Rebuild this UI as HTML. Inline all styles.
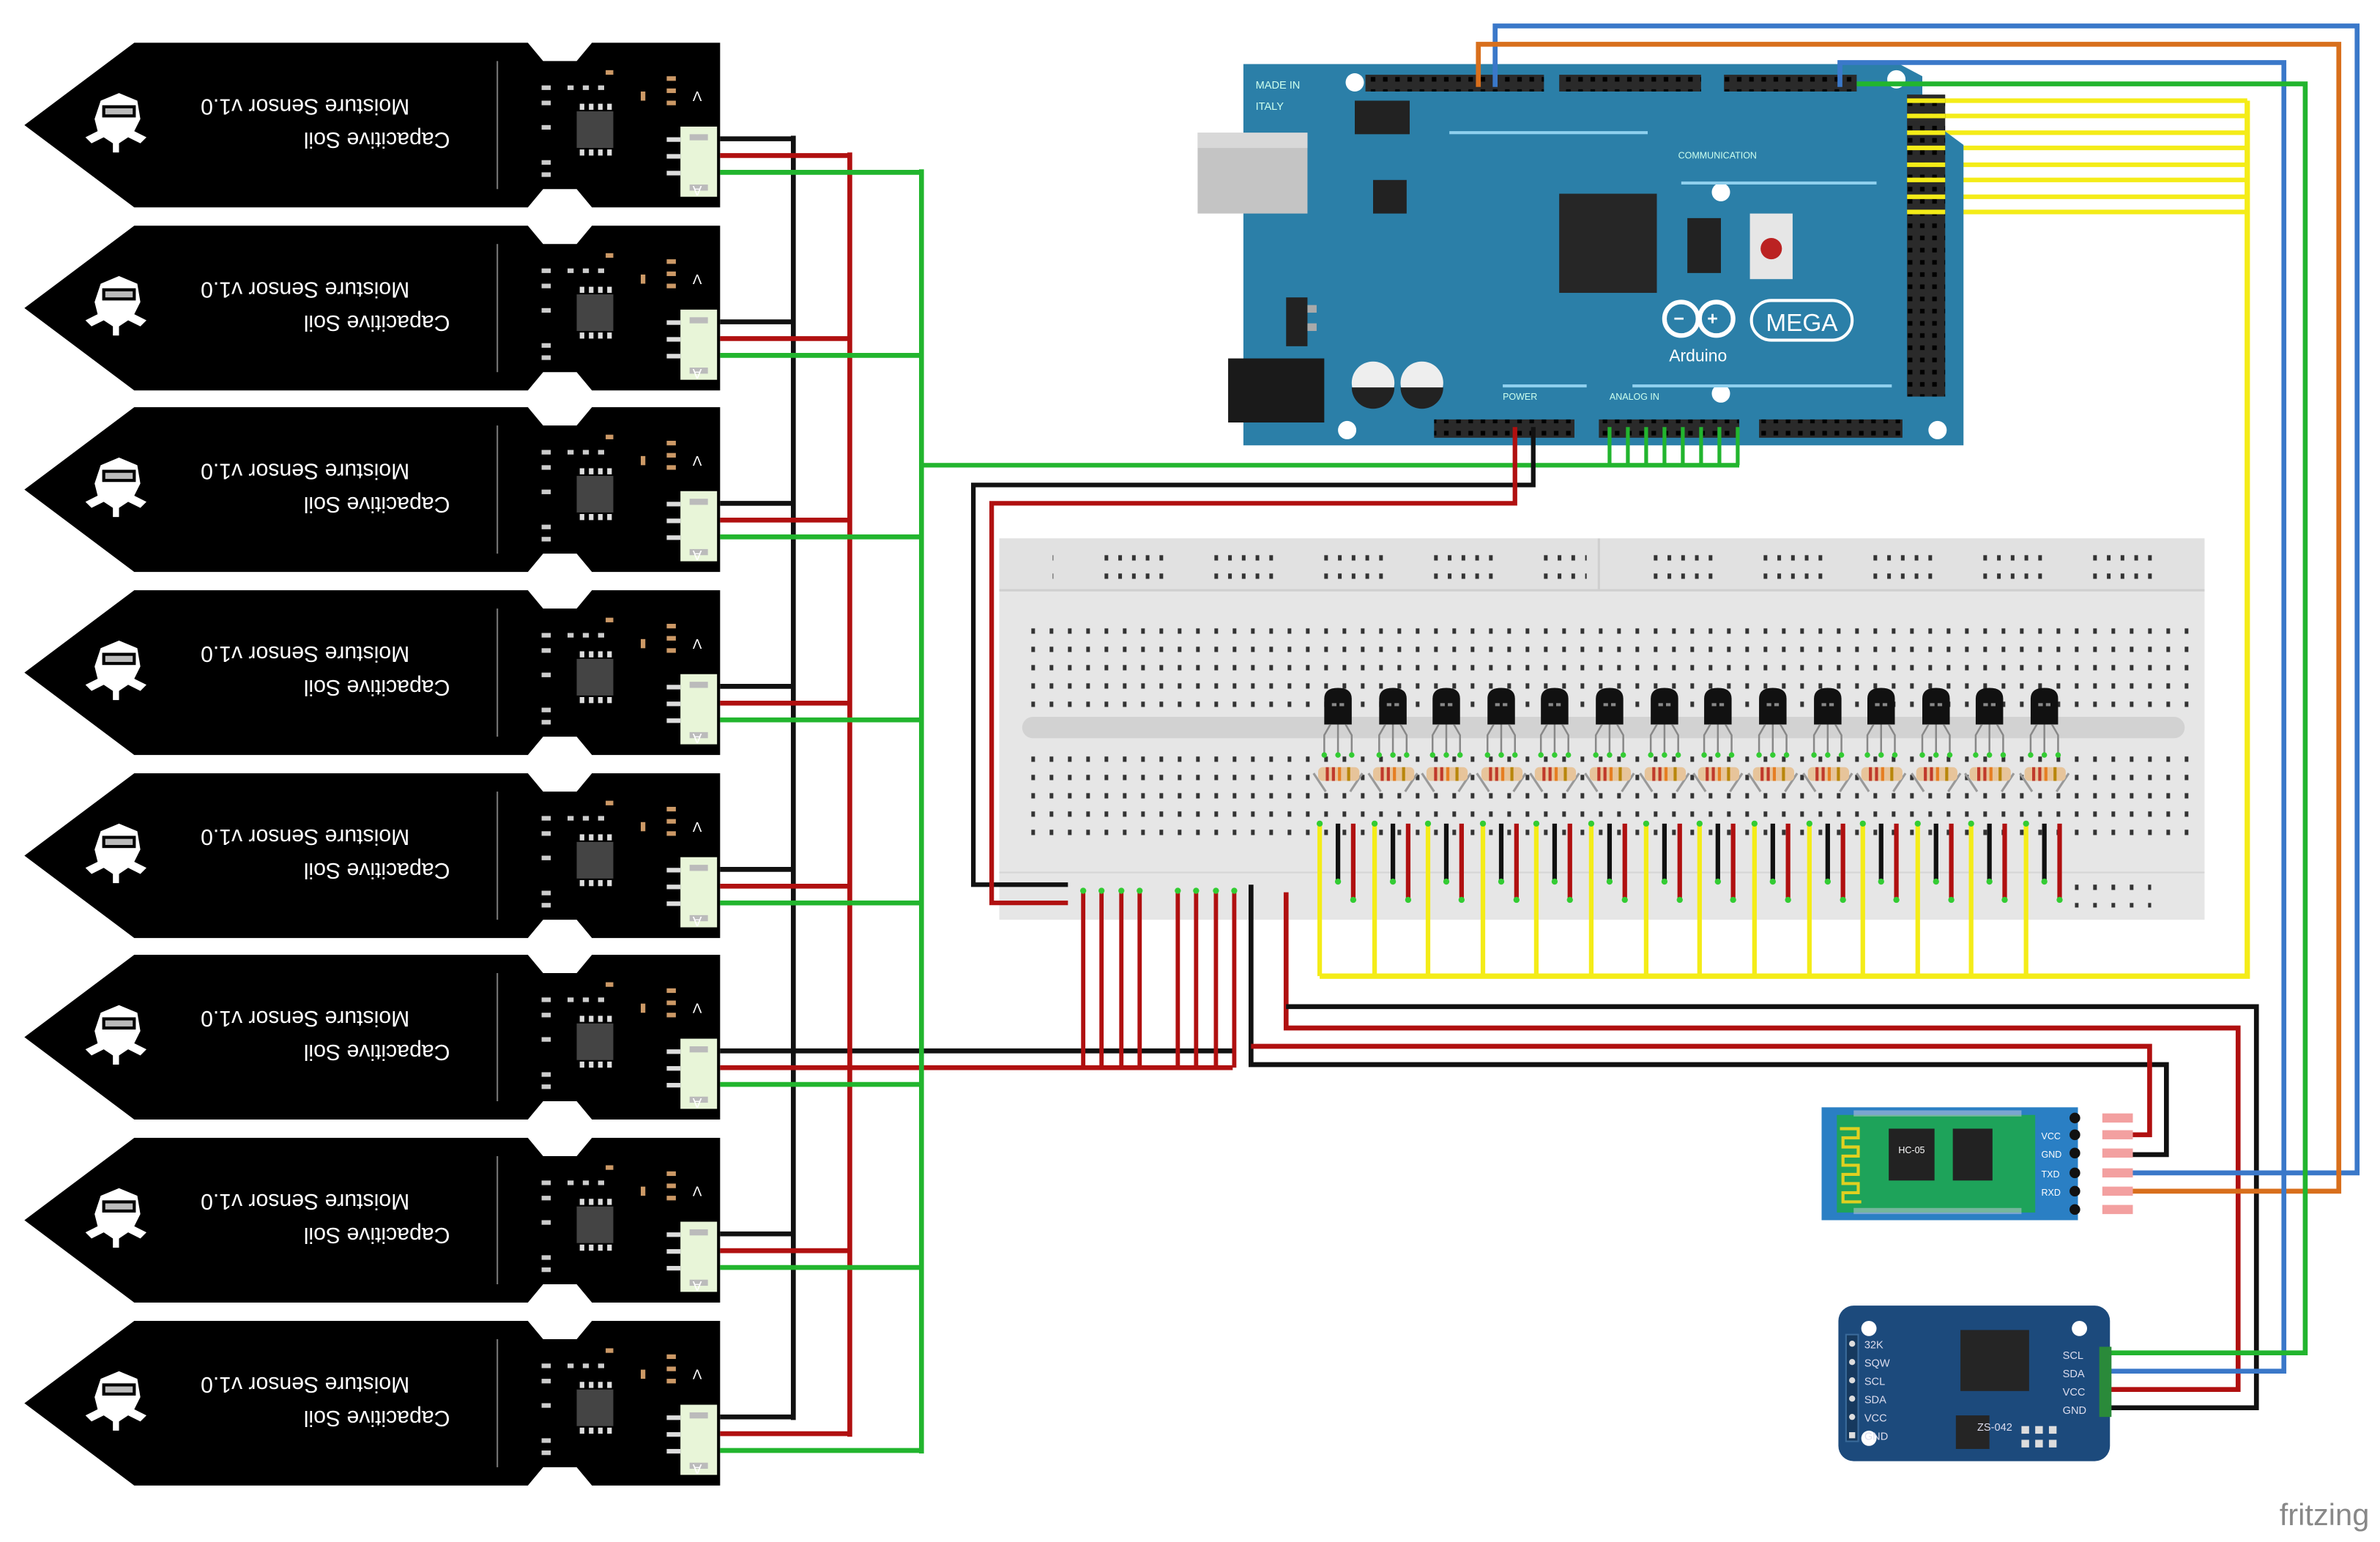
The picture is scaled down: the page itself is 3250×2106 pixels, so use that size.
<!DOCTYPE html>
<html><head><meta charset="utf-8"><style>
html,body{margin:0;padding:0;background:#fff;}
svg{display:block;}
text{font-family:"Liberation Sans","DejaVu Sans",sans-serif;}
</style></head><body>
<svg xmlns="http://www.w3.org/2000/svg" width="3250" height="2106" viewBox="0 0 1560 1011" preserveAspectRatio="none">
<defs>
<pattern id="bbdot" x="0" y="0" width="12" height="12" patternUnits="userSpaceOnUse"><rect x="4" y="4" width="2.4" height="3.5" fill="#333"/></pattern>
<pattern id="raildot" x="0" y="0" width="72" height="12" patternUnits="userSpaceOnUse">
<rect x="4" y="4" width="2.4" height="3.5" fill="#333"/><rect x="13" y="4" width="2.4" height="3.5" fill="#333"/><rect x="22" y="4" width="2.4" height="3.5" fill="#333"/><rect x="31" y="4" width="2.4" height="3.5" fill="#333"/><rect x="40" y="4" width="2.4" height="3.5" fill="#333"/></pattern>
<pattern id="hdr" x="0" y="0" width="8" height="8" patternUnits="userSpaceOnUse"><rect width="8" height="8" fill="#2a2a2a"/><rect x="2.5" y="2.5" width="3" height="3" fill="#000"/></pattern>
<g id="sensor">
<path d="M16,54 L88,0 L346,0 L356,12 L378,12 L388,0 L472,0 L472,108 L388,108 L378,96 L356,96 L346,108 L88,108 Z" fill="#000"/>
<line x1="326" y1="12" x2="326" y2="96" stroke="#777" stroke-width="1"/>
<path d="M66,38 L78,33 L90,38 L92,50 L88,58 L96,62 L92,66 L84,62 L78,66 L78,72 L74,72 L74,66 L68,62 L60,66 L56,62 L64,58 L62,50 Z" fill="#fff"/>
<rect x="67" y="41" width="22" height="8" fill="#000"/><rect x="69" y="43" width="18" height="4" fill="#bbb"/>
<rect x="378" y="45" width="24" height="24" fill="#444"/>
<rect x="380" y="40" width="3" height="4" fill="#ddd"/><rect x="386" y="40" width="3" height="4" fill="#ddd"/><rect x="392" y="40" width="3" height="4" fill="#ddd"/><rect x="398" y="40" width="3" height="4" fill="#ddd"/>
<rect x="380" y="70" width="3" height="4" fill="#ddd"/><rect x="386" y="70" width="3" height="4" fill="#ddd"/><rect x="392" y="70" width="3" height="4" fill="#ddd"/><rect x="398" y="70" width="3" height="4" fill="#ddd"/>
<rect x="355" y="28" width="6" height="3" fill="#ccc"/><rect x="355" y="38" width="6" height="3" fill="#ccc"/><rect x="355" y="54" width="6" height="3" fill="#ccc"/><rect x="355" y="77" width="6" height="3" fill="#ccc"/><rect x="355" y="85" width="6" height="3" fill="#ccc"/>
<rect x="372" y="28" width="4" height="3" fill="#ccc"/><rect x="382" y="28" width="4" height="3" fill="#ccc"/><rect x="392" y="28" width="4" height="3" fill="#ccc"/>
<rect x="397" y="18" width="5" height="3" fill="#c96"/><rect x="420" y="32" width="3" height="6" fill="#c96"/>
<rect x="437" y="22" width="6" height="3" fill="#c96"/><rect x="437" y="30" width="6" height="3" fill="#c96"/><rect x="437" y="38" width="6" height="3" fill="#c96"/>
<rect x="446" y="55" width="24" height="46" fill="#e8f5d8"/><rect x="452" y="60" width="12" height="4" fill="#bbb"/><rect x="452" y="93" width="12" height="4" fill="#bbb"/>
<rect x="437" y="62" width="9" height="3" fill="#ddd"/><rect x="437" y="73" width="9" height="3" fill="#ddd"/><rect x="437" y="84" width="9" height="3" fill="#ddd"/>
<text x="460" y="38" font-size="9" fill="#fff" transform="rotate(180 460 35)">V</text>
<text x="460" y="100" font-size="9" fill="#fff" transform="rotate(180 460 97)">A</text>
</g>
<g id="trans">
<path d="M-9,475 L-9,458 Q-9,451 0,451 Q9,451 9,458 L9,475 Z" fill="#111"/>
<rect x="-4" y="461" width="3" height="2" fill="#888"/><rect x="1" y="461" width="3" height="2" fill="#888"/>
<path d="M-5,475 L-9,482 L-9,495 M0,475 L0,495 M5,475 L9,482 L9,495" stroke="#888" stroke-width="1.2" fill="none"/>
<circle cx="-9" cy="495" r="1.8" fill="#3c3"/><circle cx="0" cy="495" r="1.8" fill="#3c3"/><circle cx="9" cy="495" r="1.8" fill="#3c3"/>
</g>
<g id="res">
<path d="M-16,507 L-8,519 M16,507 L8,519" stroke="#999" stroke-width="1.5"/>
<rect x="-13" y="503" width="27" height="9" rx="3" fill="#e7c49a"/>
<rect x="-8" y="503" width="2" height="9" fill="#c0392b"/><rect x="-4" y="503" width="2" height="9" fill="#c0392b"/><rect x="0" y="503" width="2" height="9" fill="#e67e22"/><rect x="6" y="503" width="2" height="9" fill="#b8860b"/>
</g>
<g id="bcol">
<line x1="0" y1="540" x2="0" y2="640" stroke="#f4ec18" stroke-width="3"/>
<line x1="12" y1="540" x2="12" y2="578" stroke="#111" stroke-width="3"/>
<line x1="22" y1="540" x2="22" y2="590" stroke="#b01010" stroke-width="3"/>
<circle cx="0" cy="540" r="2" fill="#3c3"/><circle cx="12" cy="578" r="2" fill="#3c3"/><circle cx="22" cy="590" r="2" fill="#3c3"/>
</g>
</defs>

<!-- Sensors -->
<use href="#sensor" x="0" y="28"/>
<use href="#sensor" x="0" y="148"/>
<use href="#sensor" x="0" y="267"/>
<use href="#sensor" x="0" y="387"/>
<use href="#sensor" x="0" y="507"/>
<use href="#sensor" x="0" y="626"/>
<use href="#sensor" x="0" y="746"/>
<use href="#sensor" x="0" y="866"/>
<g fill="#fff" font-size="14.5" text-anchor="middle">
<text x="200" y="75" transform="rotate(180 200 70)">Moisture Sensor v1.0</text>
<text x="247" y="97" transform="rotate(180 247 92)">Capacitive Soil</text>
<text x="200" y="195" transform="rotate(180 200 190)">Moisture Sensor v1.0</text>
<text x="247" y="217" transform="rotate(180 247 212)">Capacitive Soil</text>
<text x="200" y="314" transform="rotate(180 200 309)">Moisture Sensor v1.0</text>
<text x="247" y="336" transform="rotate(180 247 331)">Capacitive Soil</text>
<text x="200" y="434" transform="rotate(180 200 429)">Moisture Sensor v1.0</text>
<text x="247" y="456" transform="rotate(180 247 451)">Capacitive Soil</text>
<text x="200" y="554" transform="rotate(180 200 549)">Moisture Sensor v1.0</text>
<text x="247" y="576" transform="rotate(180 247 571)">Capacitive Soil</text>
<text x="200" y="673" transform="rotate(180 200 668)">Moisture Sensor v1.0</text>
<text x="247" y="695" transform="rotate(180 247 690)">Capacitive Soil</text>
<text x="200" y="793" transform="rotate(180 200 788)">Moisture Sensor v1.0</text>
<text x="247" y="815" transform="rotate(180 247 810)">Capacitive Soil</text>
<text x="200" y="913" transform="rotate(180 200 908)">Moisture Sensor v1.0</text>
<text x="247" y="935" transform="rotate(180 247 930)">Capacitive Soil</text>
</g>

<!-- Breadboard -->
<rect x="655" y="353" width="790" height="250" fill="#e6e6e6"/>
<rect x="655" y="353" width="790" height="34" fill="#e1e1e1"/>
<line x1="655" y1="387" x2="1445" y2="387" stroke="#cfcfcf" stroke-width="1.5"/>
<line x1="1048" y1="353" x2="1048" y2="387" stroke="#cfcfcf" stroke-width="1.5"/>
<line x1="655" y1="572" x2="1445" y2="572" stroke="#d6d6d6" stroke-width="1"/>
<rect x="690" y="359" width="350" height="24" fill="url(#raildot)"/>
<rect x="1060" y="359" width="360" height="24" fill="url(#raildot)"/>
<rect x="668" y="407" width="768" height="60" fill="url(#bbdot)"/>
<rect x="668" y="490" width="768" height="60" fill="url(#bbdot)"/>
<rect x="670" y="470" width="762" height="14" rx="7" fill="#d2d2d2"/>
<rect x="1360" y="575" width="50" height="20" fill="url(#bbdot)"/>

<!-- transistors and resistors -->
<use href="#res" x="877"/><use href="#res" x="913"/><use href="#res" x="948"/><use href="#res" x="984"/><use href="#res" x="1019"/><use href="#res" x="1055"/><use href="#res" x="1091"/><use href="#res" x="1126"/><use href="#res" x="1162"/><use href="#res" x="1198"/><use href="#res" x="1233"/><use href="#res" x="1269"/><use href="#res" x="1304"/><use href="#res" x="1340"/>
<use href="#trans" x="877"/><use href="#trans" x="913"/><use href="#trans" x="948"/><use href="#trans" x="984"/><use href="#trans" x="1019"/><use href="#trans" x="1055"/><use href="#trans" x="1091"/><use href="#trans" x="1126"/><use href="#trans" x="1162"/><use href="#trans" x="1198"/><use href="#trans" x="1233"/><use href="#trans" x="1269"/><use href="#trans" x="1304"/><use href="#trans" x="1340"/>
<use href="#bcol" x="865"/><use href="#bcol" x="901"/><use href="#bcol" x="936"/><use href="#bcol" x="972"/><use href="#bcol" x="1007"/><use href="#bcol" x="1043"/><use href="#bcol" x="1079"/><use href="#bcol" x="1114"/><use href="#bcol" x="1150"/><use href="#bcol" x="1186"/><use href="#bcol" x="1221"/><use href="#bcol" x="1257"/><use href="#bcol" x="1292"/><use href="#bcol" x="1328"/>
<!-- yellow bus -->
<polyline points="865,640 1473,640 1473,66" fill="none" stroke="#f4ec18" stroke-width="3.5"/>
<g stroke="#f4ec18" stroke-width="3"><line x1="1252" y1="66" x2="1473" y2="66"/><line x1="1252" y1="76" x2="1473" y2="76"/><line x1="1252" y1="87" x2="1473" y2="87"/><line x1="1252" y1="97" x2="1473" y2="97"/><line x1="1252" y1="108" x2="1473" y2="108"/><line x1="1252" y1="118" x2="1473" y2="118"/><line x1="1252" y1="129" x2="1473" y2="129"/><line x1="1252" y1="139" x2="1473" y2="139"/></g>

<!-- Arduino Mega -->
<path d="M815,42 L1245,42 L1260,50 L1260,75 L1287,95 L1287,292 L815,292 Z" fill="#2b7fa8"/>
<rect x="785" y="87" width="72" height="53" fill="#c4c4c4"/><rect x="785" y="87" width="72" height="10" fill="#d8d8d8"/>
<rect x="805" y="235" width="63" height="42" fill="#1a1a1a"/>
<rect x="1022" y="127" width="64" height="65" fill="#262626"/>
<rect x="900" y="118" width="22" height="22" fill="#222"/>
<rect x="843" y="195" width="14" height="32" fill="#222"/><rect x="857" y="200" width="6" height="5" fill="#aaa"/><rect x="857" y="212" width="6" height="5" fill="#aaa"/>
<rect x="888" y="66" width="36" height="22" fill="#222"/>
<rect x="1106" y="143" width="22" height="36" fill="#222"/>
<rect x="1147" y="140" width="28" height="43" fill="#e6e6e6"/><circle cx="1161" cy="163" r="7" fill="#b22"/>
<circle cx="900" cy="251" r="14" fill="#eee"/><circle cx="932" cy="251" r="14" fill="#eee"/>
<path d="M886,254 A14,14 0 0,0 914,254 Z" fill="#222"/><path d="M918,254 A14,14 0 0,0 946,254 Z" fill="#222"/>
<circle cx="888" cy="54" r="6" fill="#fff"/><circle cx="1128" cy="126" r="6" fill="#fff"/><circle cx="1243" cy="52" r="6" fill="#fff"/>
<circle cx="883" cy="282" r="6" fill="#fff"/><circle cx="1128" cy="258" r="6" fill="#fff"/><circle cx="1270" cy="282" r="6" fill="#fff"/>
<g fill="none" stroke="#fff" stroke-width="3"><circle cx="1102" cy="209" r="11"/><circle cx="1125" cy="209" r="11"/></g>
<text x="1097" y="213" font-size="12" fill="#fff" font-weight="bold">−</text><text x="1119" y="213" font-size="12" fill="#fff" font-weight="bold">+</text>
<rect x="1148" y="197" width="66" height="26" rx="13" fill="none" stroke="#fff" stroke-width="2"/>
<text x="1181" y="217" font-size="16" fill="#fff" text-anchor="middle">MEGA</text>
<text x="1113" y="237" font-size="11" fill="#fff" text-anchor="middle">Arduino</text>
<text x="823" y="58" font-size="7" fill="#cfe">MADE IN</text><text x="823" y="72" font-size="7" fill="#cfe">ITALY</text>
<text x="1100" y="104" font-size="6" fill="#cfe">COMMUNICATION</text>
<text x="985" y="262" font-size="6" fill="#cfe">POWER</text><text x="1055" y="262" font-size="6" fill="#cfe">ANALOG IN</text>
<line x1="950" y1="87" x2="1080" y2="87" stroke="#8fd0ee" stroke-width="2"/>
<line x1="1102" y1="120" x2="1230" y2="120" stroke="#8fd0ee" stroke-width="2"/>
<line x1="1070" y1="253" x2="1240" y2="253" stroke="#8fd0ee" stroke-width="2"/>
<line x1="985" y1="253" x2="1040" y2="253" stroke="#8fd0ee" stroke-width="2"/>
<rect x="895" y="49" width="117" height="11" fill="url(#hdr)"/>
<rect x="1022" y="49" width="93" height="11" fill="url(#hdr)"/>
<rect x="1130" y="49" width="87" height="11" fill="url(#hdr)"/>
<rect x="1250" y="62" width="25" height="198" fill="url(#hdr)"/>
<rect x="940" y="275" width="92" height="12" fill="url(#hdr)"/>
<rect x="1048" y="275" width="92" height="12" fill="url(#hdr)"/>
<rect x="1153" y="275" width="94" height="12" fill="url(#hdr)"/>
<g stroke="#f4ec18" stroke-width="3"><line x1="1250" y1="66" x2="1275" y2="66"/><line x1="1250" y1="76" x2="1275" y2="76"/><line x1="1250" y1="87" x2="1275" y2="87"/><line x1="1250" y1="97" x2="1275" y2="97"/><line x1="1250" y1="108" x2="1275" y2="108"/><line x1="1250" y1="118" x2="1275" y2="118"/><line x1="1250" y1="129" x2="1275" y2="129"/><line x1="1250" y1="139" x2="1275" y2="139"/></g>

<!-- analog green -->
<g stroke="#22b52e" stroke-width="2.5"><line x1="1055" y1="280" x2="1055" y2="305"/><line x1="1067" y1="280" x2="1067" y2="305"/><line x1="1079" y1="280" x2="1079" y2="305"/><line x1="1091" y1="280" x2="1091" y2="305"/><line x1="1103" y1="280" x2="1103" y2="305"/><line x1="1115" y1="280" x2="1115" y2="305"/><line x1="1127" y1="280" x2="1127" y2="305"/><line x1="1139" y1="280" x2="1139" y2="305"/></g>
<line x1="604" y1="305" x2="1140" y2="305" stroke="#22b52e" stroke-width="3"/>

<!-- Arduino power to breadboard -->
<polyline points="1005,280 1005,318 638,318 638,580 700,580" fill="none" stroke="#111" stroke-width="3"/>
<polyline points="993,280 993,330 650,330 650,592 700,592" fill="none" stroke="#b01010" stroke-width="3"/>

<!-- sensor wires -->
<g fill="none" stroke-width="3.2">
<g stroke="#111"><line x1="472" y1="91" x2="520" y2="91"/><line x1="472" y1="211" x2="520" y2="211"/><line x1="472" y1="330" x2="520" y2="330"/><line x1="472" y1="450" x2="520" y2="450"/><line x1="472" y1="570" x2="520" y2="570"/><line x1="472" y1="689" x2="808" y2="689"/><line x1="472" y1="809" x2="520" y2="809"/><line x1="472" y1="929" x2="520" y2="929"/><line x1="520" y1="89" x2="520" y2="931"/></g>
<g stroke="#b01010"><line x1="472" y1="102" x2="557" y2="102"/><line x1="472" y1="222" x2="557" y2="222"/><line x1="472" y1="341" x2="557" y2="341"/><line x1="472" y1="461" x2="557" y2="461"/><line x1="472" y1="581" x2="557" y2="581"/><line x1="472" y1="700" x2="808" y2="700"/><line x1="472" y1="820" x2="557" y2="820"/><line x1="472" y1="940" x2="557" y2="940"/><line x1="557" y1="100" x2="557" y2="942"/></g>
<g stroke="#22b52e"><line x1="472" y1="113" x2="604" y2="113"/><line x1="472" y1="233" x2="604" y2="233"/><line x1="472" y1="352" x2="604" y2="352"/><line x1="472" y1="472" x2="604" y2="472"/><line x1="472" y1="592" x2="604" y2="592"/><line x1="472" y1="711" x2="604" y2="711"/><line x1="472" y1="831" x2="604" y2="831"/><line x1="472" y1="951" x2="604" y2="951"/><line x1="604" y1="111" x2="604" y2="953"/></g>
<!-- red verticals to breadboard rail -->
<g stroke="#b01010" stroke-width="2.8"><line x1="710" y1="584" x2="710" y2="700"/><line x1="722" y1="584" x2="722" y2="700"/><line x1="735" y1="584" x2="735" y2="700"/><line x1="747" y1="584" x2="747" y2="700"/><line x1="772" y1="584" x2="772" y2="700"/><line x1="784" y1="584" x2="784" y2="700"/><line x1="797" y1="584" x2="797" y2="700"/><line x1="809" y1="584" x2="809" y2="700"/></g>
<polyline points="820,580 820,698 1420,698 1420,757 1398,757" stroke="#111"/>
<polyline points="820,686 1409,686 1409,744 1398,744" stroke="#b01010"/>
<polyline points="843,585 843,674 1467,674 1467,911 1383,911" stroke="#b01010"/>
<polyline points="843,660 1479,660 1479,923 1383,923" stroke="#111"/>
<!-- top wires -->
<polyline points="980,57 980,17 1545,17 1545,769 1398,769" stroke="#3a78c9"/>
<polyline points="969,57 969,29 1533,29 1533,781 1398,781" stroke="#d86f1c"/>
<polyline points="1206,57 1206,41 1497,41 1497,899 1383,899" stroke="#3a78c9"/>
<polyline points="1217,55 1511,55 1511,887 1383,887" stroke="#22b52e"/>
</g>
<g fill="#3c3"><circle cx="710" cy="584" r="2"/><circle cx="722" cy="584" r="2"/><circle cx="735" cy="584" r="2"/><circle cx="747" cy="584" r="2"/><circle cx="772" cy="584" r="2"/><circle cx="784" cy="584" r="2"/><circle cx="797" cy="584" r="2"/><circle cx="809" cy="584" r="2"/></g>

<!-- Bluetooth HC-05 -->
<rect x="1194" y="726" width="168" height="74" fill="#2a7fc4"/>
<rect x="1204" y="731" width="130" height="64" fill="#1ea35a"/>
<path d="M1206,740 h12 v6 h-10 v6 h10 v6 h-10 v6 h10 v6 h-10 v6 h10 v6 h-10 v6 h12" fill="none" stroke="#e0d020" stroke-width="2"/>
<rect x="1238" y="740" width="30" height="34" fill="#222"/><rect x="1280" y="740" width="26" height="34" fill="#222"/>
<text x="1253" y="756" font-size="6" fill="#fff" text-anchor="middle">HC-05</text>
<g fill="#ccd"><rect x="1215" y="728" width="110" height="4" opacity="0.5"/><rect x="1215" y="792" width="110" height="4" opacity="0.5"/></g>
<g font-size="6" fill="#fff"><text x="1338" y="747">VCC</text><text x="1338" y="759">GND</text><text x="1338" y="772">TXD</text><text x="1338" y="784">RXD</text></g>
<g fill="#111"><circle cx="1360" cy="733" r="3.5"/><circle cx="1360" cy="744" r="3.5"/><circle cx="1360" cy="756" r="3.5"/><circle cx="1360" cy="769" r="3.5"/><circle cx="1360" cy="781" r="3.5"/><circle cx="1360" cy="793" r="3.5"/></g>
<g fill="#f3a0a0"><rect x="1378" y="730" width="20" height="6"/><rect x="1378" y="741" width="20" height="6"/><rect x="1378" y="753" width="20" height="6"/><rect x="1378" y="766" width="20" height="6"/><rect x="1378" y="778" width="20" height="6"/><rect x="1378" y="790" width="20" height="6"/></g>

<!-- RTC DS3231 -->
<rect x="1205" y="856" width="178" height="102" rx="10" fill="#1c4a7c"/>
<circle cx="1225" cy="871" r="5" fill="#fff"/><circle cx="1363" cy="871" r="5" fill="#fff"/><circle cx="1225" cy="943" r="5" fill="#fff"/>
<rect x="1285" y="872" width="45" height="40" fill="#252525"/>
<rect x="1282" y="928" width="22" height="22" fill="#252525"/>
<rect x="1210" y="875" width="8" height="70" fill="#16395e" stroke="#3a6a9a"/>
<g fill="#ddd"><circle cx="1214" cy="881" r="2"/><circle cx="1214" cy="893" r="2"/><circle cx="1214" cy="905" r="2"/><circle cx="1214" cy="917" r="2"/><circle cx="1214" cy="929" r="2"/><rect x="1212" y="939" width="4" height="4"/></g>
<g font-size="7" fill="#dde"><text x="1222" y="884">32K</text><text x="1222" y="896">SQW</text><text x="1222" y="908">SCL</text><text x="1222" y="920">SDA</text><text x="1222" y="932">VCC</text><text x="1222" y="944">GND</text>
<text x="1352" y="891">SCL</text><text x="1352" y="903">SDA</text><text x="1352" y="915">VCC</text><text x="1352" y="927">GND</text><text x="1296" y="938">ZS-042</text></g>
<rect x="1376" y="883" width="8" height="46" fill="#2a8a3a"/>
<g fill="#ddd"><rect x="1325" y="935" width="5" height="5"/><rect x="1334" y="935" width="5" height="5"/><rect x="1343" y="935" width="5" height="5"/><rect x="1325" y="944" width="5" height="5"/><rect x="1334" y="944" width="5" height="5"/><rect x="1343" y="944" width="5" height="5"/></g>

<text x="1553" y="1000" font-size="20" fill="#888" text-anchor="end">fritzing</text>
</svg>
</body></html>
